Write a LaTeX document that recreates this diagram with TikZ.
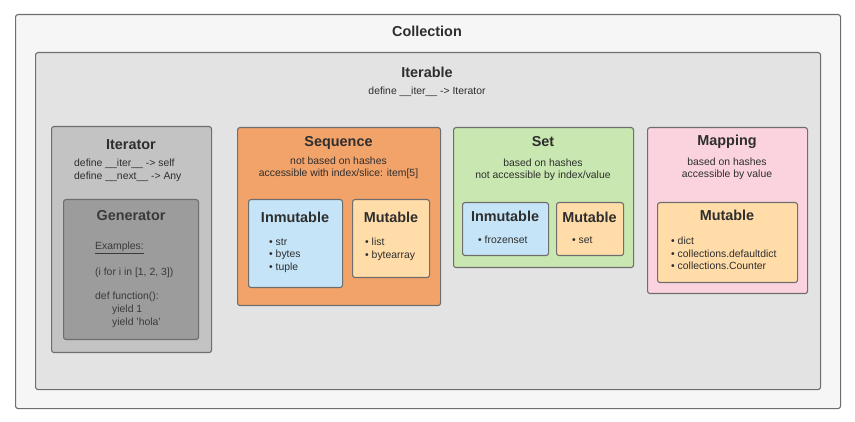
\documentclass[tikz,border=0pt]{standalone}
\usepackage{fontspec}
\setmainfont{Liberation Sans}
\definecolor{bordergray}{HTML}{6E6E6E}
\definecolor{outerfill}{HTML}{F6F6F6}
\definecolor{iterablefill}{HTML}{E3E3E3}
\definecolor{iteratorfill}{HTML}{C3C3C3}
\definecolor{generatorfill}{HTML}{9C9C9C}
\definecolor{seqfill}{HTML}{F2A36A}
\definecolor{inmutfill}{HTML}{C5E4F7}
\definecolor{mutfill}{HTML}{FFDCA8}
\definecolor{setfill}{HTML}{C9E7B0}
\definecolor{mapfill}{HTML}{FAD3DE}
\definecolor{txt}{HTML}{2E2E2E}
\definecolor{gtxt}{HTML}{3A3A3A}
\begin{document}
\begin{tikzpicture}[x=1pt,y=-1pt,
  box/.style={draw=bordergray, line width=1.1pt, rounded corners=2.5pt, anchor=north west, inner sep=0pt},
  bigtitle/.style={text=txt, font=\fontsize{14.4}{17}\selectfont\bfseries, inner sep=0pt, anchor=base},
  subtitle/.style={text=txt, font=\fontsize{10.4}{12.3}\selectfont, align=center, inner sep=0pt},
  smalltxt/.style={text=txt, font=\fontsize{10.4}{12.5}\selectfont, align=left, inner sep=0pt, anchor=west},
  gentxt/.style={text=gtxt, font=\fontsize{10.4}{12.5}\selectfont, inner sep=0pt, anchor=west},
]
\useasboundingbox (0,0) rectangle (855,422);

% Collection
\node[box, fill=outerfill, minimum width=825, minimum height=394] (collection) at (15,14) {};
\node[bigtitle] (collectionT) at (427,37) {Collection};

% Iterable
\node[box, fill=iterablefill, minimum width=785, minimum height=337] (iterable) at (35,52) {};
\node[bigtitle] (iterableT) at (427,78) {Iterable};
\node[subtitle] (iterableS) at (427,92) {define \_\_iter\_\_ -> Iterator};

% Iterator
\node[box, fill=iteratorfill, minimum width=160, minimum height=226] (iterator) at (51,126) {};
\node[bigtitle] (iteratorT) at (131,150) {Iterator};
\node[smalltxt] (iteratorL1) at (74,164) {define \_\_iter\_\_ -> self};
\node[smalltxt] (iteratorL2) at (74,177) {define \_\_next\_\_ -> Any};

% Generator
\node[box, fill=generatorfill, minimum width=135, minimum height=140] (generator) at (63,199) {};
\node[bigtitle, text=gtxt] (generatorT) at (131,221) {Generator};
\node[gentxt] (genEx) at (95,248) {\underline{Examples:}};
\node[gentxt] (genComp) at (95,273) {(i for i in [1, 2, 3])};
\node[gentxt] (genDef) at (95,297) {def function():};
\node[gentxt] (genY1) at (112,310) {yield 1};
\node[gentxt] (genY2) at (112,323) {yield 'hola'};

% Sequence
\node[box, fill=seqfill, minimum width=203, minimum height=178] (sequence) at (237,127) {};
\node[bigtitle] (sequenceT) at (338.5,147) {Sequence};
\node[subtitle] (sequenceS) at (338.5,168) {not based on hashes\\accessible with index/slice: item[5]};
\node[box, fill=inmutfill, minimum width=94, minimum height=88] (seqInm) at (248,199) {};
\node[bigtitle] (seqInmT) at (295,223) {Inmutable};
\node[smalltxt] (seqInmL) at (269,255.5) {\textbullet\ str\\\textbullet\ bytes\\\textbullet\ tuple};
\node[box, fill=mutfill, minimum width=77, minimum height=78] (seqMut) at (352,199) {};
\node[bigtitle] (seqMutT) at (391,223) {Mutable};
\node[smalltxt] (seqMutL) at (365,249.5) {\textbullet\ list\\\textbullet\ bytearray};

% Set
\node[box, fill=setfill, minimum width=180, minimum height=140] (set) at (453,127) {};
\node[bigtitle] (setT) at (543,147) {Set};
\node[subtitle] (setS) at (543,170) {based on hashes\\not accessible by index/value};
\node[box, fill=inmutfill, minimum width=86, minimum height=53] (setInm) at (462,202) {};
\node[bigtitle] (setInmT) at (505,222) {Inmutable};
\node[smalltxt] (setInmL) at (478,240) {\textbullet\ frozenset};
\node[box, fill=mutfill, minimum width=67, minimum height=53] (setMut) at (556,202) {};
\node[bigtitle] (setMutT) at (589.5,223) {Mutable};
\node[smalltxt] (setMutL) at (572,240) {\textbullet\ set};

% Mapping
\node[box, fill=mapfill, minimum width=160, minimum height=166] (mapping) at (647,127) {};
\node[bigtitle] (mappingT) at (727,146) {Mapping};
\node[subtitle] (mappingS) at (727,169) {based on hashes\\accessible by value};
\node[box, fill=mutfill, minimum width=140, minimum height=80] (mapMut) at (657,202) {};
\node[bigtitle] (mapMutT) at (727,221) {Mutable};
\node[smalltxt] (mapMutL) at (671,253.5) {\textbullet\ dict\\\textbullet\ collections.defaultdict\\\textbullet\ collections.Counter};
\end{tikzpicture}
\end{document}
